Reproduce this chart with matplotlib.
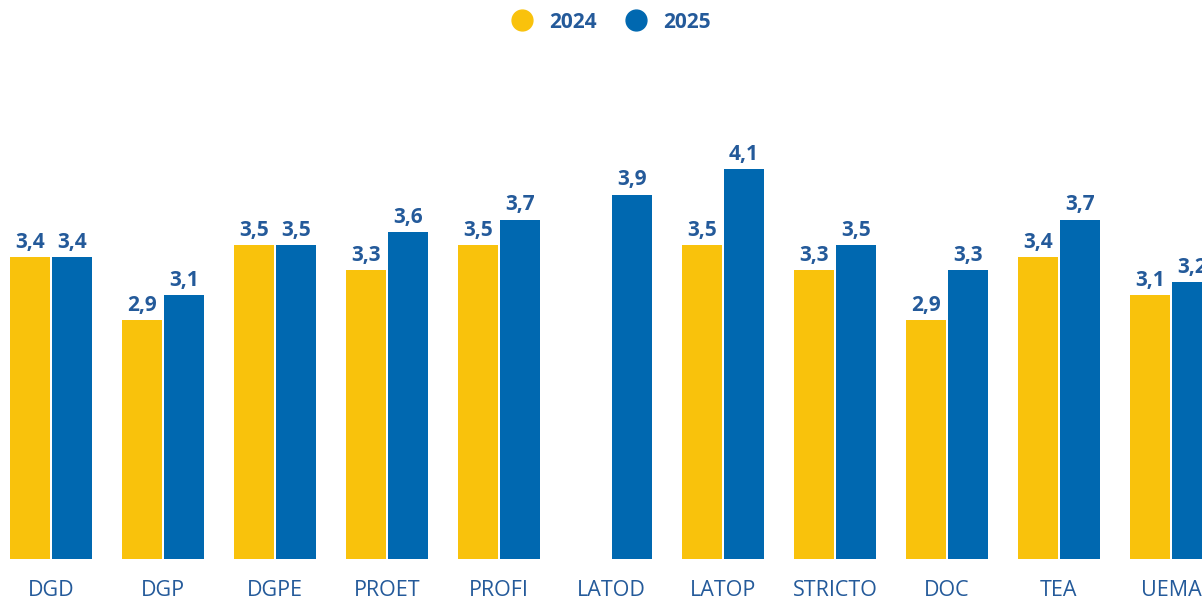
import numpy as np
import matplotlib.pyplot as plt
from matplotlib.lines import Line2D

# Données
categories = ["DGD", "DGP", "DGPE", "PROET", "PROFI", "LATOD", "LATOP",
              "STRICTO", "DOC", "TEA", "UEMA"]
valeurs_2024 = [3.4, 2.9, 3.5, 3.3, 3.5, np.nan, 3.5, 3.3, 2.9, 3.4, 3.1]
valeurs_2025 = [3.4, 3.1, 3.5, 3.6, 3.7, 3.9, 4.1, 3.5, 3.3, 3.7, 3.2]
series = ["2024", "2025"]

jaune = "#F9C20C"
bleu = "#0068B0"
texte = "#245A9A"

plt.rcParams['font.family'] = ['Open Sans', 'DejaVu Sans']

fig = plt.figure(figsize=(12.02, 6.01), dpi=100)
ax = fig.add_axes([0, 42 / 601, 1, 459 / 601])

x = np.arange(len(categories))
largeur = 0.357
ecart = 0.009

b1 = ax.bar(x - largeur / 2 - ecart, valeurs_2024, largeur, color=jaune)
b2 = ax.bar(x + largeur / 2 + ecart, valeurs_2025, largeur, color=bleu)

# Étiquettes des valeurs (virgule décimale)
for barres, vals in [(b1, valeurs_2024), (b2, valeurs_2025)]:
    etiquettes = ["" if np.isnan(v) else f"{v:.1f}".replace(".", ",") for v in vals]
    ax.bar_label(barres, labels=etiquettes, padding=3, color=texte,
                 fontsize=15, fontweight="bold")

ax.set_xlim(-0.455, 10.277)
ax.set_ylim(1.0, 4.652)
ax.set_xticks(x)
ax.set_xticklabels(categories, fontsize=15.5, color=texte)
ax.tick_params(axis="x", length=0, pad=15)
ax.set_yticks([])
for s in ax.spines.values():
    s.set_visible(False)

# Légende
poignees = [Line2D([], [], marker="o", linestyle="", markersize=15, color=c)
            for c in (jaune, bleu)]
leg = fig.legend(poignees, series, loc="center", bbox_to_anchor=(0.504, 0.963),
                 ncol=2, frameon=False, handletextpad=0.3, columnspacing=0.9,
                 prop={"size": 15, "weight": "bold"})
for t in leg.get_texts():
    t.set_color(texte)

fig.savefig("out.png", dpi=100)
